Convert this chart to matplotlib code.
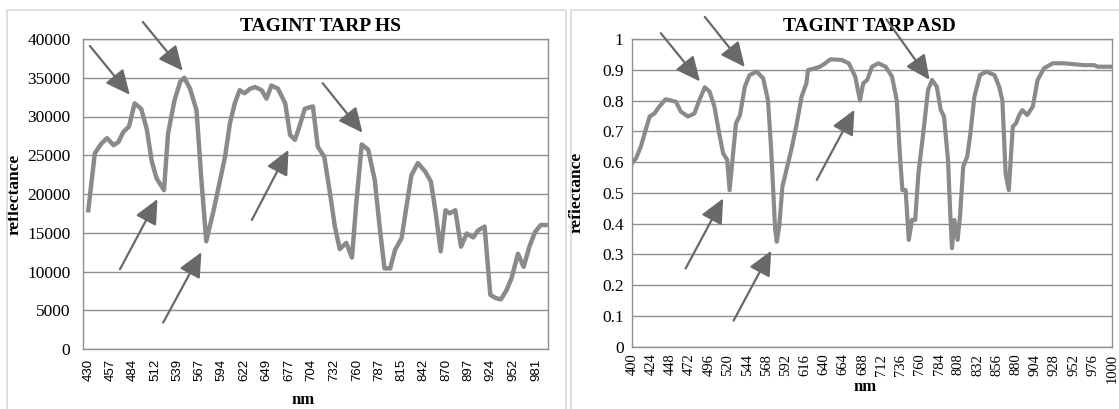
import matplotlib
matplotlib.use("Agg")
import matplotlib.pyplot as plt
from matplotlib.patches import Rectangle

plt.rcParams['font.family'] = ['Liberation Serif', 'DejaVu Serif']

# TAGINT TARP HS spectrum
hs_nm = [430, 438, 446, 453, 461, 467, 473, 480, 487, 495, 502, 508, 514, 523,
         528, 536, 543, 548, 555, 563, 569, 575, 584, 592, 598, 604, 610, 616,
         622, 629, 635, 643, 649, 655, 663, 672, 678, 684, 690, 696, 706, 712,
         720, 727, 733, 739, 747, 754, 759, 766, 774, 782, 788, 794, 801, 807,
         815, 821, 827, 835, 844, 851, 857, 863, 869, 874, 881, 888, 895, 903,
         909, 917, 924, 930, 937, 944, 950, 958, 965, 972, 979, 986, 992]
hs_refl = [17900, 25250, 26500, 27200, 26300, 26700, 28000, 28700, 31700, 31000,
           28300, 24200, 22000, 20500, 27800, 32100, 34500, 35000, 33600, 30800,
           21800, 13900, 17900, 21800, 24800, 29100, 31700, 33400, 33000, 33600,
           33800, 33400, 32300, 34000, 33600, 31700, 27600, 27000, 28900, 31000,
           31300, 26100, 24800, 20100, 15800, 12900, 13700, 11800, 18400, 26400,
           25700, 21800, 15800, 10400, 10400, 12800, 14300, 18400, 22400, 24000,
           22900, 21600, 17500, 12600, 17900, 17500, 17900, 13200, 14900, 14400,
           15300, 15800, 7000, 6600, 6400, 7600, 9100, 12300, 10600, 13200,
           15100, 16000, 16000]
hs_ticks = [430, 457, 484, 512, 539, 567, 594, 622, 649, 677, 704, 732, 760,
            787, 815, 842, 870, 897, 924, 952, 981]

# TAGINT TARP ASD spectrum
asd_nm = [400, 405, 411, 422, 428, 434, 442, 449, 455, 461, 470, 478, 484, 491,
          497, 503, 509, 514, 519, 522, 530, 535, 541, 547, 556, 564, 570, 574,
          579, 581, 584, 588, 593, 600, 606, 612, 618, 620, 629, 635, 641, 648,
          662, 671, 679, 685, 689, 694, 700, 708, 717, 725, 731, 735, 738, 742,
          746, 750, 754, 758, 765, 770, 775, 781, 786, 790, 795, 798, 800, 803,
          807, 810, 814, 819, 823, 828, 835, 843, 853, 859, 863, 867, 871, 876,
          880, 884, 888, 894, 901, 907, 915, 926, 940, 965, 978, 982, 1000]
asd_refl = [0.596, 0.612, 0.65, 0.748, 0.758, 0.78, 0.804, 0.80, 0.796, 0.764,
            0.748, 0.758, 0.80, 0.843, 0.829, 0.78, 0.693, 0.628, 0.607, 0.509,
            0.726, 0.753, 0.845, 0.883, 0.894, 0.872, 0.80, 0.639, 0.379, 0.341,
            0.39, 0.52, 0.574, 0.65, 0.726, 0.813, 0.856, 0.899, 0.905, 0.91,
            0.92, 0.934, 0.932, 0.921, 0.878, 0.80, 0.856, 0.867, 0.91, 0.921,
            0.91, 0.878, 0.80, 0.618, 0.509, 0.509, 0.347, 0.412, 0.412, 0.563,
            0.715, 0.834, 0.867, 0.845, 0.769, 0.748, 0.607, 0.423, 0.32, 0.412,
            0.347, 0.423, 0.585, 0.618, 0.693, 0.813, 0.883, 0.894, 0.883, 0.845,
            0.80, 0.563, 0.509, 0.715, 0.726, 0.753, 0.769, 0.753, 0.78, 0.867,
            0.905, 0.921, 0.921, 0.915, 0.915, 0.91, 0.91]
asd_ticks = list(range(400, 1001, 24))

# arrows (tail x, tail y, head x, head y) in data units
hs_arrows = [(432, 39100, 481, 32800), (497, 42200, 546, 35900),
             (469, 10300, 515, 19350), (522, 3400, 569, 12500),
             (631, 16650, 676, 25700), (718, 34300, 767, 27900)]
asd_arrows = [(436, 1.019, 485, 0.862), (491, 1.072, 541, 0.909),
              (467, 0.254, 514, 0.482), (527, 0.085, 574, 0.312),
              (631, 0.542, 678, 0.770), (718, 1.064, 772, 0.867)]

line_col = '#8a8a8a'
arrow_col = '#696969'
grid_col = '#8f8f8f'
arrow_style = '-|>,head_length=1.5,head_width=0.7'

fig = plt.figure(figsize=(11.19, 4.09), dpi=100)

# chart frames
fig.add_artist(Rectangle((7 / 1119, -0.02), 559 / 1119, 1.02 - 10 / 409,
                         transform=fig.transFigure, fill=False,
                         edgecolor='#d9d9d9', lw=1.2))
fig.add_artist(Rectangle((571 / 1119, -0.02), 0.6, 1.02 - 10 / 409,
                         transform=fig.transFigure, fill=False,
                         edgecolor='#d9d9d9', lw=1.2))

ax1 = fig.add_axes([83 / 1119, 60 / 409, 465 / 1119, 310 / 409])
ax2 = fig.add_axes([632 / 1119, 62.3 / 409, 480 / 1119, 307.7 / 409])


def style_axes(ax):
    for s in ax.spines.values():
        s.set_color(grid_col)
        s.set_linewidth(1.0)
    ax.grid(axis='y', color=grid_col, lw=1.0)
    ax.set_axisbelow(True)
    ax.tick_params(length=0)


# left: HS
ax1.plot(hs_nm, hs_refl, color=line_col, lw=3.2, solid_joinstyle='round')
ax1.set_xlim(423.5, 994.9)
ax1.set_ylim(0, 40000)
ax1.set_yticks(range(0, 40001, 5000))
ax1.set_xticks(hs_ticks)
ax1.set_xticklabels([str(t) for t in hs_ticks], rotation=90,
                    family=['Liberation Sans', 'DejaVu Sans'], fontsize=9.5)
ax1.tick_params(axis='y', labelsize=12.5, pad=9)
ax1.tick_params(axis='x', pad=7)
style_axes(ax1)
ax1.text(0.51, 1.039, 'TAGINT TARP HS', transform=ax1.transAxes,
         ha='center', va='center', fontsize=14, fontweight='bold')
ax1.set_ylabel('reflectance', fontsize=12.5, fontweight='bold')
ax1.yaxis.set_label_coords(-0.129, 0.5)
ax1.set_xlabel('nm', fontsize=12, fontweight='bold', va='center')
ax1.xaxis.set_label_coords(0.473, -0.165)
for x0, y0, x1, y1 in hs_arrows:
    ax1.annotate('', xy=(x1, y1), xytext=(x0, y0), annotation_clip=False,
                 arrowprops=dict(arrowstyle=arrow_style, color=arrow_col,
                                 lw=1.6, shrinkA=0, shrinkB=0))

# right: ASD
ax2.plot(asd_nm, asd_refl, color=line_col, lw=3.0, solid_joinstyle='round')
ax2.set_xlim(400, 1000)
ax2.set_ylim(0, 1)
ax2.set_yticks([i / 10 for i in range(11)])
ax2.set_yticklabels(['0', '0.1', '0.2', '0.3', '0.4', '0.5', '0.6', '0.7',
                     '0.8', '0.9', '1'])
ax2.set_xticks(asd_ticks)
ax2.set_xticklabels([str(t) for t in asd_ticks], rotation=90, fontsize=10.5)
ax2.tick_params(axis='y', labelsize=12.5, pad=6)
ax2.tick_params(axis='x', pad=5)
style_axes(ax2)
ax2.text(0.494, 1.039, 'TAGINT TARP ASD', transform=ax2.transAxes,
         ha='center', va='center', fontsize=14, fontweight='bold')
ax2.set_ylabel('reflectance', fontsize=12.5, fontweight='bold')
ax2.yaxis.set_label_coords(-0.098, 0.5)
ax2.set_xlabel('nm', fontsize=12, fontweight='bold', va='center')
ax2.xaxis.set_label_coords(0.485, -0.13)
for x0, y0, x1, y1 in asd_arrows:
    ax2.annotate('', xy=(x1, y1), xytext=(x0, y0), annotation_clip=False,
                 arrowprops=dict(arrowstyle=arrow_style, color=arrow_col,
                                 lw=1.6, shrinkA=0, shrinkB=0))

fig.savefig('out.png', dpi=100)
